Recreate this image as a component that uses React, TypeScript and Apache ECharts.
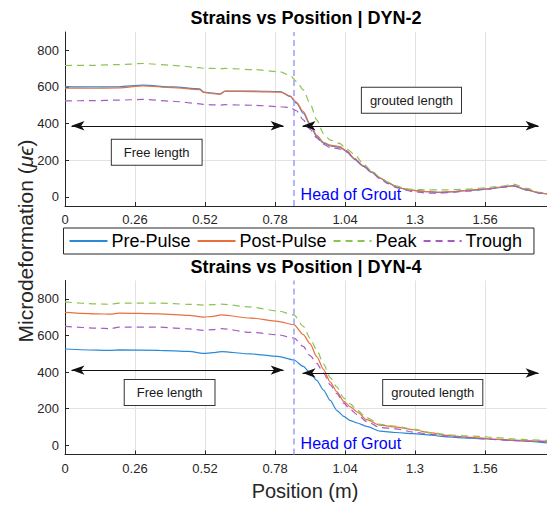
import React, { useEffect, useRef } from 'react';
import * as echarts from 'echarts';

// ---------- DYN-2 (top panel) ----------
const POS_DYN2 = [0, 0.1, 0.2, 0.29, 0.4, 0.5, 0.515, 0.55, 0.576, 0.594, 0.7, 0.8, 0.836, 0.86, 0.885, 0.91, 0.935, 0.96, 0.985, 1.02, 1.046, 1.075, 1.108, 1.14, 1.17, 1.2, 1.232, 1.265, 1.294, 1.35, 1.393, 1.44, 1.492, 1.566, 1.62, 1.665, 1.715, 1.764, 1.79];
const PRE_DYN2 = [602, 600, 601, 610, 600, 590, 572, 566, 562, 578, 578, 575, 548, 511, 457, 393, 329, 293, 278, 271, 247, 205, 166, 133, 102, 76, 53, 41, 35, 28, 24, 28, 35, 42, 52, 60, 38, 20, 16];
const POST_DYN2 = [594, 593, 595, 606, 596, 585, 570, 564, 560, 576, 575, 572, 550, 516, 465, 400, 336, 298, 282, 274, 252, 210, 170, 136, 104, 78, 55, 42, 35, 28, 25, 29, 35, 43, 53, 61, 38, 21, 17];
const PEAK_DYN2 = [717, 718, 722, 728, 718, 705, 702, 701, 700, 701, 695, 682, 662, 630, 584, 510, 420, 345, 310, 292, 262, 232, 180, 140, 106, 80, 58, 45, 40, 38, 38, 39, 42, 50, 58, 69, 46, 24, 18];
const TROUGH_DYN2 = [524, 525, 528, 532, 522, 508, 505, 502, 501, 503, 500, 492, 487, 470, 420, 370, 322, 286, 270, 262, 245, 207, 168, 132, 98, 72, 50, 36, 28, 20, 20, 25, 31, 42, 52, 60, 38, 20, 16];

// ---------- DYN-4 (bottom panel) ----------
const POS_DYN4 = [0, 0.12, 0.17, 0.2, 0.35, 0.46, 0.514, 0.55, 0.58, 0.69, 0.79, 0.85, 0.885, 0.91, 0.935, 0.96, 0.985, 1.01, 1.035, 1.06, 1.085, 1.12, 1.17, 1.23, 1.294, 1.36, 1.42, 1.48, 1.54, 1.6, 1.665, 1.73, 1.79];
const PRE_DYN4 = [526, 520, 518, 521, 519, 513, 502, 506, 512, 499, 486, 466, 431, 396, 355, 302, 245, 190, 158, 135, 122, 104, 78, 70, 64, 55, 46, 41, 37, 32, 27, 22, 13];
const POST_DYN4 = [726, 718, 716, 722, 718, 710, 700, 704, 712, 695, 677, 659, 605, 555, 484, 415, 345, 292, 240, 210, 182, 140, 110, 100, 85, 68, 54, 47, 41, 34, 28, 24, 22];
const PEAK_DYN4 = [783, 772, 770, 777, 777, 770, 766, 768, 771, 755, 734, 712, 650, 585, 520, 445, 370, 318, 258, 225, 192, 150, 115, 104, 88, 70, 58, 52, 49, 42, 35, 30, 27];
const TROUGH_DYN4 = [650, 640, 637, 645, 645, 636, 628, 632, 637, 617, 604, 586, 540, 490, 448, 395, 330, 282, 230, 195, 168, 130, 97, 90, 72, 60, 50, 44, 37, 31, 26, 22, 20];

const SERIES_NAMES = ['Pre-Pulse', 'Post-Pulse', 'Peak', 'Trough'];
const Y_TICKS = [0, 200, 400, 600, 800];
const TITLES = ['Strains vs Position | DYN-2', 'Strains vs Position | DYN-4'];

const HEAD_OF_GROUT = 0.85;

const COLORS = ['#2b8ad6', '#e8703f', '#8cc452', '#a45cc4'];
const FONT = '"Liberation Sans", Arial, Helvetica, sans-serif';
const AX = '#262626';

function zip(xs: number[], ys: number[]) {
  return xs.map((x, i) => [x, ys[i]]);
}

function arrowPair(x0: number, x1: number, y: number) {
  const end = { symbol: 'arrow', symbolSize: [7, 13] };
  return [
    { coord: [x0, y], ...end },
    { coord: [x1, y], ...end },
  ];
}

function boxLabel(text: string, pad: number[]) {
  return {
    show: true,
    position: 'inside',
    formatter: text,
    fontSize: 13,
    fontFamily: FONT,
    color: '#1a1a1a',
    backgroundColor: '#ffffff',
    borderColor: '#333333',
    borderWidth: 1,
    padding: pad,
  };
}

function annotations(arrowYLeft: number, arrowYRight: number, freeXY: number[], groutXY: number[], headY: number) {
  return {
    markLine: {
      silent: true,
      animation: false,
      label: { show: false },
      symbol: ['arrow', 'arrow'],
      lineStyle: { color: '#111111', width: 1, type: 'solid' },
      emphasis: { disabled: true },
      data: [
        arrowPair(0.024, 0.812, arrowYLeft),
        arrowPair(0.882, 1.759, arrowYRight),
      ],
    },
    markPoint: {
      silent: true,
      animation: false,
      symbol: 'rect',
      symbolSize: 1,
      itemStyle: { color: 'rgba(0,0,0,0)' },
      data: [
        { coord: freeXY, label: boxLabel('Free length', [6, 12]) },
        { coord: groutXY, label: boxLabel('grouted length', [6, 8]) },
        {
          coord: [0.873, headY],
          label: { show: true, position: 'right', distance: 0, formatter: 'Head of Grout', fontSize: 16, fontFamily: FONT, color: '#0000ff' },
        },
      ],
    },
  };
}

const headLine = {
  markLine: {
    silent: true,
    animation: false,
    symbol: ['none', 'none'],
    label: { show: false },
    emphasis: { disabled: true },
    lineStyle: { color: '#9c9cff', width: 1.5, type: [6, 4] },
    data: [{ xAxis: HEAD_OF_GROUT }],
  },
};

function makeSeries(gi: number, xs: number[], sets: number[][], ann: any) {
  return sets.map((ys, k) => ({
    name: SERIES_NAMES[k],
    type: 'line',
    xAxisIndex: gi,
    yAxisIndex: gi,
    data: zip(xs, ys),
    symbol: 'none',
    showSymbol: false,
    smooth: 0.25,
    smoothMonotone: 'x',
    lineStyle: { color: COLORS[k], width: 1.2, type: k >= 2 ? [7, 5] : 'solid' },
    itemStyle: { color: COLORS[k] },
    z: 3,
    ...(k === 0 ? ann : {}),
    ...(k === 3 ? headLine : {}),
  }));
}

function xAxisCfg(gi: number) {
  return {
    type: 'value',
    gridIndex: gi,
    min: 0,
    max: 1.79,
    interval: 0.26,
    axisLine: { show: true, onZero: false, lineStyle: { color: AX, width: 1 } },
    axisTick: { show: true, inside: true, length: 4, lineStyle: { color: AX } },
    axisLabel: {
      show: true,
      margin: 7,
      fontSize: 13,
      fontFamily: FONT,
      color: AX,
      showMaxLabel: false,
      formatter: (v: number) => String(Math.round(v * 100) / 100),
    },
    splitLine: { show: true, lineStyle: { color: '#e2e2e2', width: 1 } },
  };
}

function yAxisCfg(gi: number) {
  const T = 'rgba(0,0,0,0)';
  return {
    type: 'value',
    gridIndex: gi,
    min: -50,
    max: 900,
    interval: 50,
    axisLine: { show: true, onZero: false, lineStyle: { color: AX, width: 1 } },
    axisTick: { show: true, inside: true, length: 4, lineStyle: { color: AX }, customValues: Y_TICKS },
    axisLabel: { show: true, margin: 6, fontSize: 13, fontFamily: FONT, color: AX, customValues: Y_TICKS },
    splitLine: { show: true, lineStyle: { color: [T, '#e2e2e2', T, T], width: 1 } },
  };
}

export default function App() {
  const ref = useRef<HTMLDivElement>(null);
  useEffect(() => {
    if (!ref.current) return;
    const chart = echarts.init(ref.current, undefined, { renderer: 'svg' });
    const ann2 = annotations(388, 388, [0.3406, 243], [1.2866, 527], 11);
    const ann4 = annotations(411, 395, [0.3885, 288], [1.3657, 288], 9);
    const option: any = {
      animation: false,
      backgroundColor: '#ffffff',
      textStyle: { fontFamily: FONT },
      grid: [
        { left: 65, right: 0, top: 32, height: 174, containLabel: false },
        { left: 65, right: 0, top: 280.5, height: 174, containLabel: false },
      ],
      xAxis: [xAxisCfg(0), xAxisCfg(1)],
      yAxis: [yAxisCfg(0), yAxisCfg(1)],
      legend: {
        data: SERIES_NAMES,
        left: 63.5,
        top: 228,
        orient: 'horizontal',
        itemWidth: 38,
        itemHeight: 14,
        itemGap: 6,
        padding: [4, 12, 4, 5],
        borderColor: AX,
        borderWidth: 1,
        borderRadius: 0,
        backgroundColor: '#ffffff',
        itemStyle: { color: 'rgba(0,0,0,0)', borderWidth: 0, opacity: 0 },
        textStyle: { fontSize: 18, fontFamily: FONT, color: '#000000', lineHeight: 18, padding: [0, 0, 0, -1] },
        selectedMode: false,
      },
      series: [
        ...makeSeries(0, POS_DYN2, [PRE_DYN2, POST_DYN2, PEAK_DYN2, TROUGH_DYN2], ann2),
        ...makeSeries(1, POS_DYN4, [PRE_DYN4, POST_DYN4, PEAK_DYN4, TROUGH_DYN4], ann4),
      ],
      graphic: [
        {
          type: 'text', x: 306, y: 18,
          style: { text: TITLES[0], fontSize: 18, fontWeight: 'bold', fontFamily: FONT, fill: '#000', align: 'center', verticalAlign: 'middle' },
        },
        {
          type: 'text', x: 306, y: 267,
          style: { text: TITLES[1], fontSize: 18, fontWeight: 'bold', fontFamily: FONT, fill: '#000', align: 'center', verticalAlign: 'middle' },
        },
        {
          type: 'text', x: 305, y: 491,
          style: { text: 'Position (m)', fontSize: 20, fontFamily: FONT, fill: AX, align: 'center', verticalAlign: 'middle' },
        },
        {
          type: 'text', x: 25, y: 241, rotation: Math.PI / 2,
          style: {
            text: 'Microdeformation ({i|μϵ})',
            fontSize: 21, fontFamily: FONT, fill: AX, align: 'center', verticalAlign: 'middle',
            rich: { i: { fontSize: 21, fontStyle: 'italic', fontFamily: FONT, fill: AX } },
          },
        },
      ],
    };
    chart.setOption(option);
    return () => chart.dispose();
  }, []);
  return (
    <div
      ref={ref}
      style={{ position: 'fixed', left: 0, top: 0, width: 547, height: 505, background: '#fff' }}
    />
  );
}
